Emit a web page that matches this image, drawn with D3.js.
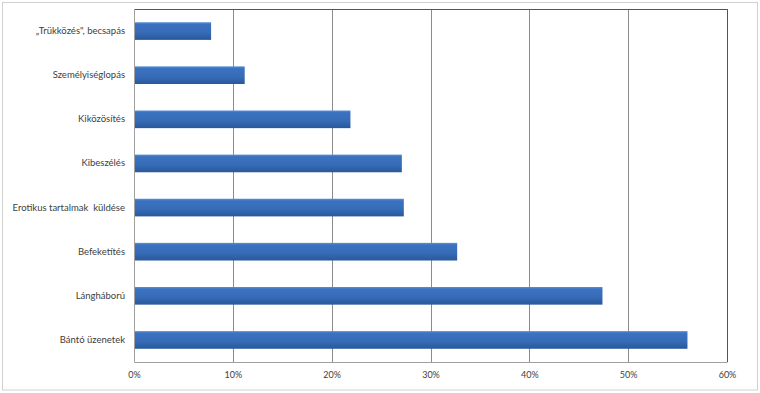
<!DOCTYPE html>
<html>
<head>
<meta charset="utf-8">
<script src="https://cdn.jsdelivr.net/npm/d3@7"></script>
<style>
  body { margin: 0; background: #fff; }
  text { font-family: Lato, "Open Sans", sans-serif; fill: #404040; white-space: pre; }
</style>
</head>
<body>
<div id="chart"></div>
<script>
var width = 760, height = 393;

//Data
var categories = ["„Trükközés\", becsapás", "Személyiséglopás", "Kiközösítés", "Kibeszélés",
                  "Erotikus tartalmak  küldése", "Befeketítés", "Lángháború", "Bántó üzenetek"];
var values = [7.8, 11.2, 21.9, 27.1, 27.3, 32.7, 47.4, 56.0];
var ticks = [0, 10, 20, 30, 40, 50, 60];

var margin = { top: 9, right: 33, bottom: 31, left: 134 };

var svg = d3.select("#chart").append("svg")
    .attr("width", width)
    .attr("height", height);

// gradient for the bars
var grad = svg.append("defs").append("linearGradient")
    .attr("id", "barGrad")
    .attr("x1", 0).attr("y1", 0).attr("x2", 0).attr("y2", 1);
grad.append("stop").attr("offset", "0%").attr("stop-color", "#5a8fd6");
grad.append("stop").attr("offset", "12%").attr("stop-color", "#3b72c0");
grad.append("stop").attr("offset", "60%").attr("stop-color", "#366bb6");
grad.append("stop").attr("offset", "100%").attr("stop-color", "#29579a");

// outer frame
svg.append("rect")
    .attr("x", 2.5).attr("y", 2.5)
    .attr("width", 755).attr("height", 387.5)
    .attr("fill", "none")
    .attr("stroke", "#d0d0d0");

var x = d3.scaleLinear()
    .domain([0, 60])
    .range([margin.left, width - margin.right]);

var y = d3.scaleBand()
    .domain(categories)
    .range([margin.top, height - margin.bottom])
    .paddingInner(0.6)
    .paddingOuter(0.3);

// gridlines
svg.append("g")
    .selectAll("line")
    .data(ticks.slice(1))
    .join("line")
    .attr("x1", d => Math.round(x(d)) + 0.5)
    .attr("x2", d => Math.round(x(d)) + 0.5)
    .attr("y1", margin.top)
    .attr("y2", height - margin.bottom)
    .attr("stroke", "#8c8c8c");

// plot border top/right
svg.append("path")
    .attr("d", "M" + (margin.left + 0.5) + "," + (margin.top + 0.5) +
        "H" + (Math.round(x(60)) + 0.5) + "V" + (height - margin.bottom))
    .attr("fill", "none")
    .attr("stroke", "#555");

// bars
svg.append("g")
    .selectAll("rect")
    .data(values)
    .join("rect")
    .attr("x", x(0))
    .attr("y", (d, i) => y(categories[i]))
    .attr("width", d => x(d) - x(0))
    .attr("height", y.bandwidth())
    .attr("fill", "url(#barGrad)");

// x axis
var xAxis = svg.append("g")
    .attr("transform", "translate(0," + (height - margin.bottom) + ")")
    .call(d3.axisBottom(x).tickValues(ticks).tickSize(0).tickPadding(10)
        .tickFormat(d => d + "%"));
xAxis.select(".domain").attr("stroke", "#a0a0a0");
xAxis.selectAll("text").attr("font-size", "9px").attr("fill", "#404040")
    .style("font-family", "Lato, 'Open Sans', sans-serif");

// y axis
var yAxis = svg.append("g")
    .attr("transform", "translate(" + margin.left + ",0)")
    .call(d3.axisLeft(y).tickSize(0).tickPadding(9));
yAxis.select(".domain").attr("stroke", "#a0a0a0");
yAxis.selectAll("text").attr("font-size", "9.5px").attr("fill", "#404040")
    .style("font-family", "Lato, 'Open Sans', sans-serif");
</script>
</body>
</html>
